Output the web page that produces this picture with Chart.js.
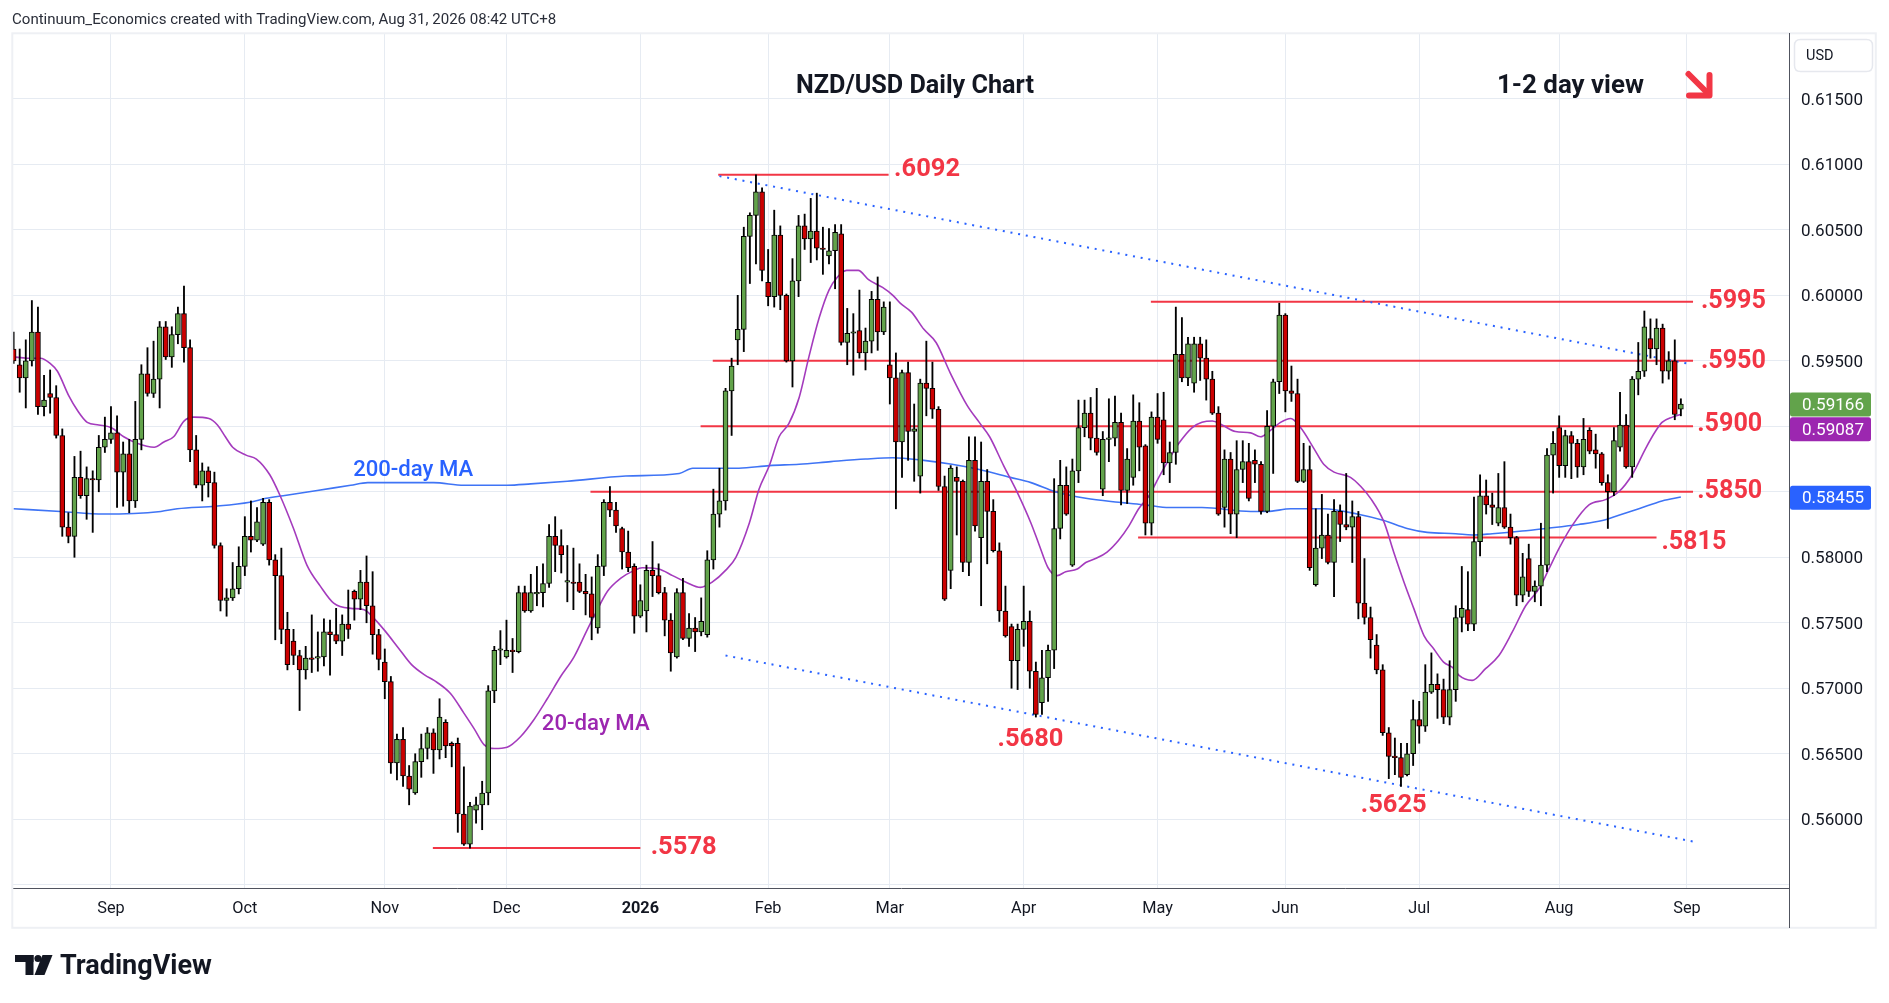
<!DOCTYPE html>
<html>
<head>
<meta charset="utf-8">
<script src="https://cdn.jsdelivr.net/npm/chart.js@4.4.1/dist/chart.umd.min.js"></script>
<style>
html,body{margin:0;padding:0;background:#fff;overflow:hidden}
#c{display:block}
</style>
</head>
<body>
<canvas id="c" width="1889" height="1003" style="width:1889px;height:1003px"></canvas>
<script>
// ---------------- DATA ----------------
// daily candles, first bar = 8 Aug 2025, last bar = 31 Aug 2026
const opens = [
.5959,.5947,.5937,.5950,.5972,.5915,.5925,.5922,.5893,.5823,
.5816,.5861,.5847,.5860,.5859,.5884,.5890,.5895,.5865,.5879,
.5843,.5890,.5940,.5925,.5936,.5976,.5953,.5970,.5986,.5960,
.5882,.5855,.5866,.5857,.5809,.5767,.5769,.5776,.5793,.5816,
.5813,.5810,.5842,.5798,.5786,.5745,.5736,.5725,.5714,.5723,
.5723,.5724,.5743,.5741,.5736,.5749,.5774,.5768,.5781,.5763,
.5741,.5720,.5705,.5643,.5661,.5633,.5620,.5644,.5654,.5666,
.5653,.5674,.5658,.5658,.5604,.5581,.5607,.5611,.5620,.5698,
.5729,.5724,.5729,.5728,.5773,.5759,.5772,.5773,.5780,.5816,
.5809,.5781,.5781,.5781,.5774,.5772,.5746,.5793,.5842,.5836,
.5822,.5804,.5793,.5755,.5759,.5790,.5786,.5773,.5752,.5724,
.5773,.5738,.5746,.5743,.5741,.5798,.5833,.5843,.5927,.5966,
.5974,.6045,.6061,.6079,.6010,.5999,.6046,.6000,.5950,.6011,
.6053,.6043,.6049,.6036,.6030,.6034,.6047,.5964,.5971,.5973,
.5956,.5965,.5997,.5972,.5947,.5937,.5888,.5941,.5896,.5862,
.5933,.5929,.5913,.5854,.5790,.5861,.5858,.5796,.5874,.5815,
.5858,.5835,.5805,.5759,.5747,.5721,.5745,.5751,.5713,.5689,
.5708,.5729,.5822,.5855,.5794,.5866,.5899,.5910,.5891,.5852,
.5890,.5891,.5903,.5851,.5861,.5904,.5885,.5826,.5907,.5905,
.5872,.5880,.5955,.5937,.5933,.5963,.5952,.5936,.5910,.5838,
.5875,.5833,.5867,.5873,.5874,.5871,.5835,.5900,.5934,.5985,
.5927,.5925,.5858,.5867,.5779,.5807,.5817,.5796,.5835,.5825,
.5823,.5831,.5765,.5754,.5733,.5714,.5666,.5648,.5647,.5634,
.5650,.5676,.5671,.5697,.5703,.5699,.5678,.5699,.5754,.5760,
.5749,.5812,.5847,.5840,.5826,.5838,.5823,.5815,.5771,.5799,
.5774,.5778,.5794,.5878,.5899,.5870,.5893,.5887,.5869,.5897,
.5882,.5879,.5857,.5850,.5884,.5901,.5869,.5936,.5942,.5967,
.5959,.5975,.5942,.5950,.5913];
const highs = [
.5972,.5959,.5966,.5996,.5991,.5939,.5943,.5931,.5898,.5834,
.5877,.5881,.5869,.5866,.5893,.5907,.5915,.5908,.5888,.5890,
.5919,.5947,.5960,.5965,.5980,.5980,.5976,.5991,.6007,.5966,
.5893,.5872,.5869,.5865,.5811,.5776,.5796,.5808,.5831,.5843,
.5838,.5845,.5844,.5802,.5807,.5758,.5745,.5729,.5732,.5756,
.5743,.5753,.5752,.5761,.5756,.5775,.5775,.5790,.5801,.5789,
.5745,.5730,.5709,.5665,.5670,.5641,.5650,.5665,.5670,.5669,
.5692,.5676,.5659,.5662,.5640,.5613,.5617,.5629,.5702,.5732,
.5744,.5752,.5738,.5778,.5778,.5787,.5793,.5795,.5825,.5831,
.5821,.5809,.5807,.5795,.5787,.5785,.5802,.5844,.5854,.5842,
.5823,.5820,.5795,.5779,.5794,.5812,.5795,.5777,.5757,.5776,
.5784,.5757,.5754,.5769,.5805,.5852,.5868,.5929,.5952,.6000,
.6052,.6063,.6092,.6082,.6035,.6065,.6053,.6001,.6028,.6061,
.6062,.6074,.6078,.6052,.6051,.6054,.6054,.5990,.5986,.6004,
.5975,.6003,.6014,.5995,.5995,.5956,.5943,.5949,.5917,.5936,
.5965,.5949,.5915,.5862,.5870,.5869,.5859,.5892,.5892,.5888,
.5867,.5844,.5811,.5778,.5749,.5749,.5778,.5759,.5720,.5729,
.5733,.5860,.5874,.5869,.5875,.5920,.5920,.5922,.5929,.5896,
.5921,.5923,.5910,.5883,.5924,.5918,.5886,.5911,.5925,.5926,
.5888,.5991,.5983,.5968,.5968,.5968,.5966,.5942,.5915,.5882,
.5880,.5889,.5889,.5887,.5882,.5873,.5912,.5936,.5994,.5986,
.5946,.5936,.5887,.5885,.5837,.5848,.5833,.5844,.5840,.5864,
.5843,.5835,.5799,.5762,.5741,.5718,.5670,.5662,.5658,.5658,
.5691,.5690,.5718,.5727,.5711,.5707,.5721,.5763,.5793,.5789,
.5846,.5863,.5859,.5849,.5864,.5873,.5833,.5816,.5803,.5810,
.5782,.5826,.5883,.5896,.5908,.5897,.5896,.5890,.5906,.5899,
.5894,.5880,.5863,.5899,.5926,.5909,.5938,.5964,.5988,.5982,
.5982,.5978,.5957,.5966,.5921];
const lows = [
.5948,.5926,.5914,.5946,.5909,.5908,.5910,.5891,.5816,.5811,
.5800,.5845,.5829,.5819,.5850,.5880,.5887,.5838,.5839,.5834,
.5838,.5882,.5923,.5922,.5914,.5951,.5945,.5963,.5949,.5873,
.5853,.5843,.5846,.5807,.5759,.5755,.5767,.5772,.5786,.5804,
.5812,.5809,.5794,.5737,.5734,.5714,.5718,.5683,.5707,.5712,
.5713,.5717,.5710,.5734,.5725,.5738,.5752,.5760,.5750,.5726,
.5714,.5692,.5635,.5630,.5625,.5611,.5619,.5632,.5646,.5635,
.5646,.5647,.5640,.5590,.5580,.5578,.5597,.5592,.5611,.5689,
.5718,.5723,.5712,.5727,.5758,.5758,.5763,.5762,.5777,.5789,
.5788,.5766,.5760,.5773,.5756,.5737,.5742,.5786,.5831,.5819,
.5791,.5789,.5742,.5754,.5743,.5770,.5772,.5740,.5713,.5723,
.5737,.5732,.5728,.5740,.5739,.5791,.5823,.5836,.5893,.5947,
.5957,.6009,.6024,.6011,.5992,.5991,.5989,.5949,.5930,.5999,
.6035,.6025,.6027,.6016,.6024,.6005,.5962,.5947,.5939,.5952,
.5943,.5956,.5958,.5970,.5917,.5837,.5861,.5874,.5858,.5849,
.5908,.5906,.5851,.5767,.5776,.5817,.5789,.5786,.5820,.5763,
.5795,.5804,.5751,.5739,.5700,.5699,.5732,.5700,.5678,.5680,
.5690,.5715,.5814,.5832,.5793,.5857,.5892,.5882,.5878,.5847,
.5873,.5885,.5840,.5841,.5855,.5866,.5817,.5817,.5887,.5863,
.5857,.5871,.5934,.5931,.5926,.5935,.5920,.5909,.5832,.5823,
.5818,.5815,.5857,.5843,.5857,.5833,.5834,.5864,.5925,.5911,
.5919,.5857,.5857,.5790,.5778,.5799,.5795,.5770,.5812,.5821,
.5796,.5753,.5749,.5723,.5711,.5664,.5631,.5634,.5625,.5633,
.5641,.5658,.5667,.5696,.5677,.5673,.5672,.5690,.5743,.5744,
.5744,.5801,.5833,.5825,.5824,.5822,.5810,.5763,.5766,.5770,
.5766,.5763,.5789,.5849,.5861,.5861,.5860,.5861,.5863,.5879,
.5868,.5855,.5822,.5847,.5881,.5868,.5861,.5924,.5938,.5952,
.5947,.5933,.5936,.5905,.5908];
const closes = [
.5950,.5937,.5950,.5972,.5915,.5920,.5922,.5893,.5823,.5816,
.5861,.5847,.5860,.5859,.5884,.5890,.5895,.5865,.5879,.5843,
.5890,.5940,.5925,.5936,.5976,.5953,.5970,.5986,.5960,.5882,
.5855,.5866,.5857,.5809,.5767,.5769,.5776,.5793,.5816,.5813,
.5827,.5842,.5798,.5786,.5745,.5718,.5725,.5714,.5723,.5722,
.5724,.5743,.5741,.5736,.5749,.5745,.5768,.5781,.5763,.5741,
.5722,.5705,.5643,.5661,.5633,.5623,.5644,.5654,.5666,.5653,
.5678,.5656,.5656,.5604,.5581,.5610,.5611,.5620,.5698,.5729,
.5730,.5729,.5728,.5773,.5759,.5773,.5773,.5780,.5816,.5809,
.5802,.5782,.5780,.5774,.5772,.5754,.5793,.5842,.5836,.5824,
.5804,.5792,.5755,.5767,.5790,.5786,.5773,.5752,.5727,.5773,
.5738,.5746,.5743,.5751,.5798,.5833,.5843,.5927,.5946,.5974,
.6045,.6061,.6079,.6019,.5999,.6046,.6000,.5950,.6011,.6053,
.6043,.6049,.6036,.6035,.6034,.6048,.5964,.5971,.5972,.5956,
.5965,.5997,.5972,.5991,.5937,.5888,.5941,.5896,.5898,.5933,
.5929,.5913,.5854,.5768,.5868,.5858,.5796,.5874,.5824,.5858,
.5835,.5805,.5759,.5740,.5721,.5745,.5751,.5713,.5680,.5708,
.5729,.5822,.5855,.5833,.5866,.5899,.5910,.5891,.5880,.5890,
.5891,.5903,.5851,.5875,.5904,.5884,.5826,.5907,.5890,.5872,
.5880,.5955,.5937,.5963,.5963,.5952,.5936,.5910,.5833,.5875,
.5833,.5867,.5873,.5845,.5871,.5835,.5900,.5934,.5985,.5927,
.5925,.5858,.5867,.5792,.5807,.5817,.5796,.5835,.5825,.5823,
.5831,.5765,.5754,.5737,.5714,.5666,.5648,.5647,.5632,.5650,
.5676,.5671,.5697,.5703,.5699,.5678,.5699,.5754,.5761,.5749,
.5812,.5847,.5840,.5838,.5838,.5823,.5815,.5771,.5785,.5774,
.5778,.5794,.5878,.5887,.5870,.5893,.5887,.5869,.5890,.5881,
.5879,.5857,.5850,.5889,.5901,.5869,.5936,.5942,.5976,.5959,
.5975,.5942,.5950,.5909,.5917];

// 20-day MA read at sample bars (bar number, value)
const ma20At = [0,2.2,4.4,6,7.2,9.1,10.5,12.1,14,16,18.1,20.3,23.1,24.7,26.3,28,29.6,32.1,33.5,34.8,
36,38.2,39.9,42.1,43.8,46,48.2,50.4,52.6,55.4,57.6,59.3,61,63.2,65.4,67.6,69.1,71.8,74,75.7,
77.3,79,81.1,83.3,85.5,87.7,89.9,92.1,94.3,95.4,97.6,99.8,102,103.3,106,108.3,110.5,112.9,114.8,117,
118.7,120.9,122.5,124.2,125.8,127.4,129.1,130.7,132.4,134,135.4,136.9,138.8,140.5,142.8,144.5,145.7,147.6,149.6,151.6,
153.9,156.7,158.7,160.4,162.7,165,167.2,168.5,170,171.5,172.9,174.8,176.2,177.8,179.7,181.6,183.3,184.9,186.6,188.2,
189.9,191.5,193.7,195.3,197,198.6,200.8,203.3,204.9,206.6,208.2,209.9,211.5,213.7,215.3,217,219.7,221.4,223,225.2,
226.8,228.5,230.1,231.8,233.4,235,236.7,237.5,239.7,241.9,244.1,246.3,248.5,250.7,252.3,254,256.1,258.9,261.6,263.8,
266,268.2,269.8,270.9,272.6,274];
const ma20Vals = [.5953,.5952,.5952,.5948,.5942,.5923,.5912,.5903,.5901,.5899,.5892,.5887,.5884,.5888,.5892,.5904,.5907,.5906,.5901,.5892,
.5884,.5878,.5875,.5863,.5847,.5822,.5794,.5778,.5765,.5761,.5760,.5753,.5744,.5731,.5718,.5710,.5706,.5696,.5681,.5669,
.5657,.5654,.5655,.5663,.5676,.5692,.5709,.5724,.5745,.5755,.5774,.5784,.5790,.5792,.5791,.5786,.5781,.5777,.5781,.5790,
.5800,.5826,.5852,.5870,.5892,.5902,.5922,.5953,.5983,.6004,.6014,.6019,.6019,.6012,.6006,.6000,.5994,.5987,.5974,.5964,
.5941,.5916,.5903,.5892,.5870,.5849,.5826,.5810,.5792,.5786,.5789,.5791,.5796,.5799,.5804,.5813,.5824,.5837,.5847,.5861,
.5875,.5887,.5899,.5903,.5904,.5901,.5896,.5895,.5892,.5897,.5903,.5906,.5899,.5883,.5871,.5865,.5861,.5854,.5845,.5827,
.5804,.5781,.5761,.5740,.5730,.5720,.5715,.5710,.5706,.5715,.5725,.5743,.5763,.5776,.5791,.5807,.5824,.5840,.5844,.5850,
.5863,.5883,.5896,.5903,.5907,.5909];

// 200-day MA read at sample bars
const ma200At = [0,7.7,14.8,24.2,26.9,33.2,38.8,41.5,44.3,49.9,55.4,58.2,61,69,74,81.1,85,91,100.6,109.4,
111.6,119.2,124.2,129.1,134.3,140,144.5,149.6,154.2,158.7,163.8,167.2,171.2,176.2,181.6,186,189.9,195.3,203.3,206,
209.9,215.3,220.8,225.2,229,232.3,237,239.7,243,247.9,251.8,257.2,261.1,263.8,267.1,270.9,274];
const ma200Vals = [.5837,.5835,.5833,.5835,.5837,.5839,.5842,.5845,.5847,.5851,.5855,.5857,.5857,.5857,.5855,.5855,.5856,.5858,.5862,.5864,
.5868,.5868,.5870,.5871,.5873,.5875,.5876,.5874,.5871,.5867,.5861,.5857,.5850,.5845,.5842,.5840,.5838,.5838,.5835,.5835,
.5837,.5837,.5833,.5828,.5822,.5819,.5818,.5817,.5818,.5820,.5822,.5825,.5828,.5832,.5837,.5843,.5846];

// horizontal levels
const levelValues = [.6092, .5995, .5950, .5900, .5850, .5815, .5578];
const levelFrom   = [115.8, 186.9, 114.9, 112.9, 94.8, 184.8, 68.9];
const levelTo     = [143.8, 276, 276, 276, 276, 270, 103];
const levelTexts  = ['.6092', '.5995', '.5950', '.5900', '.5850', '.5815', '.5578'];
// trend channel (dotted)
const upperTrend = [[116, .6091], [275, .5948]];
const lowerTrend = [[117, .5725], [276, .5583]];
// right-axis price tags: last close, 20-day MA, 200-day MA
const tagValues = [0.59166, 0.59087, 0.58455];
const tagTexts  = ['0.59166', '0.59087', '0.58455'];
// price-axis ticks
const yTickValues = [0.555,0.560,0.565,0.570,0.575,0.580,0.585,0.590,0.595,0.600,0.605,0.610,0.615];
const monthNames = ['Jan','Feb','Mar','Apr','May','Jun','Jul','Aug','Sep','Oct','Nov','Dec'];

// ---------------- trading calendar (categories) ----------------
const tradeDates = [];
(function(){
  const d = new Date(Date.UTC(2025,7,8)), end = new Date(Date.UTC(2026,8,30));
  while (d <= end) {
    const w = d.getUTCDay(), m = d.getUTCMonth(), day = d.getUTCDate();
    const hol = (m === 11 && day === 25) || (m === 0 && day === 1);
    if (w !== 0 && w !== 6 && !hol) tradeDates.push(new Date(d));
    d.setUTCDate(d.getUTCDate() + 1);
  }
})();
const monthTicks = [];
for (let i = 1; i < tradeDates.length; i++) {
  if (tradeDates[i].getUTCMonth() !== tradeDates[i-1].getUTCMonth()) {
    const m = tradeDates[i].getUTCMonth();
    monthTicks.push({value: i, label: m === 0 ? String(tradeDates[i].getUTCFullYear()) : monthNames[m]});
  }
}

// ---------------- styling ----------------
const FAM = 'Roboto, "Noto Sans", "Liberation Sans", sans-serif';
const GREEN = '#62a34b', RED = '#cc0000', LVL = '#f23645';
const BLUE = '#2962ff', PURPLE = '#9c27b0';
const GRID = '#e6ebf2', AXIS = '#50535e', TXT = '#131722';
const TY = 2.5; // visual centring of text drawn with a middle baseline

const mctx = document.createElement('canvas').getContext('2d');
function fitSize(text, weight, width) {
  mctx.font = weight + ' 100px ' + FAM;
  return 100 * width / mctx.measureText(text).width;
}
const yFont = fitSize('0.61500', 'normal', 62);
const xFont = fitSize('Sep', 'normal', 27.5);

// ---------------- datasets ----------------
const bodies = closes.map((c, i) => ({x: i, y: [Math.min(opens[i], c), Math.max(opens[i], c)]}));
const wicks = highs.map((h, i) => ({x: i, y: [lows[i], h]}));
const bodyColors = closes.map((c, i) => c >= opens[i] ? GREEN : RED);

const datasets = [
  {type: 'bar', data: bodies, backgroundColor: bodyColors, borderColor: '#000', borderWidth: 1,
   borderSkipped: false, barThickness: 5, grouped: false, minBarLength: 1.5, order: 1},
  {type: 'bar', data: wicks, backgroundColor: '#000', borderWidth: 0, barThickness: 1.2,
   grouped: false, order: 2},
  {type: 'line', data: ma20At.map((x, k) => ({x, y: ma20Vals[k]})), borderColor: '#a43bbd', borderWidth: 1.6,
   pointRadius: 0, cubicInterpolationMode: 'monotone', order: 3},
  {type: 'line', data: ma200At.map((x, k) => ({x, y: ma200Vals[k]})), borderColor: '#3f74f5', borderWidth: 1.6,
   pointRadius: 0, cubicInterpolationMode: 'monotone', order: 3},
  {type: 'line', data: upperTrend.map(p => ({x: p[0], y: p[1]})), borderColor: BLUE, borderWidth: 2,
   borderDash: [2, 5.8], pointRadius: 0, order: 4},
  {type: 'line', data: lowerTrend.map(p => ({x: p[0], y: p[1]})), borderColor: BLUE, borderWidth: 2,
   borderDash: [2, 5.8], pointRadius: 0, order: 4}
];
levelValues.forEach((v, k) => {
  datasets.push({type: 'line', data: [{x: levelFrom[k], y: v}, {x: levelTo[k], y: v}],
    borderColor: LVL, borderWidth: 2, pointRadius: 0, order: 5});
});

// ---------------- annotations ----------------
const notes = [
  {t: '.6092', x: 144.7, y: .6098, c: LVL, w: 66},
  {t: '.5995', x: 277.3, y: .5997, c: LVL, w: 65},
  {t: '.5950', x: 277.3, y: .5951, c: LVL, w: 65},
  {t: '.5900', x: 276.7, y: .5903, c: LVL, w: 65},
  {t: '.5850', x: 276.7, y: .5852, c: LVL, w: 65},
  {t: '.5815', x: 270.8, y: .5813, c: LVL, w: 65},
  {t: '.5578', x: 104.7, y: .5580, c: LVL, w: 66},
  {t: '.5680', x: 161.7, y: .5663, c: LVL, w: 66},
  {t: '.5625', x: 221.4, y: .5612, c: LVL, w: 66}
];
const maNotes = [
  {t: '200-day MA', x: 55.8, y: .5868, c: BLUE, w: 120},
  {t: '20-day MA', x: 86.8, y: .5674, c: PURPLE, w: 108}
];

function roundRect(g, x, y, w, h, r) {
  g.beginPath();
  g.moveTo(x + r, y); g.lineTo(x + w - r, y); g.quadraticCurveTo(x + w, y, x + w, y + r);
  g.lineTo(x + w, y + h - r); g.quadraticCurveTo(x + w, y + h, x + w - r, y + h);
  g.lineTo(x + r, y + h); g.quadraticCurveTo(x, y + h, x, y + h - r);
  g.lineTo(x, y + r); g.quadraticCurveTo(x, y, x + r, y); g.closePath();
}

const decor = {
  id: 'decor',
  beforeDraw(c) {
    const g = c.ctx; g.save(); g.fillStyle = '#fff'; g.fillRect(0, 0, c.width, c.height); g.restore();
  },
  afterDraw(c) {
    const g = c.ctx, xs = c.scales.x, ys = c.scales.y;
    g.save();
    // outer frame
    g.strokeStyle = '#eef0f4'; g.lineWidth = 2;
    g.strokeRect(12.3, 33.3, 1863.5, 894.5);
    g.strokeStyle = AXIS; g.lineWidth = 1;
    g.beginPath(); g.moveTo(1789.5, 33); g.lineTo(1789.5, 928); g.stroke();

    g.textBaseline = 'middle'; g.textAlign = 'left';
    // header
    const head = 'Continuum_Economics created with TradingView.com, Aug 31, 2026 08:42 UTC+8';
    let s = fitSize(head, 'normal', 545);
    g.font = 'normal ' + s + 'px ' + FAM; g.fillStyle = '#2a2e39';
    g.fillText(head, 12, 18 + TY);
    // titles
    s = fitSize('NZD/USD Daily Chart', 'bold', 238);
    g.font = 'bold ' + s + 'px ' + FAM; g.fillStyle = TXT;
    g.fillText('NZD/USD Daily Chart', 796, 84.5 + TY);
    s = fitSize('1-2 day view', 'bold', 147);
    g.font = 'bold ' + s + 'px ' + FAM;
    g.fillText('1-2 day view', 1497, 84.5 + TY);
    // arrow
    g.strokeStyle = LVL; g.lineWidth = 6; g.lineCap = 'round'; g.lineJoin = 'round';
    g.beginPath(); g.moveTo(1688.5, 74); g.lineTo(1707, 92.5); g.stroke();
    g.beginPath(); g.moveTo(1709.5, 75); g.lineTo(1709.5, 95.5); g.lineTo(1689, 95.5); g.stroke();

    // level and low labels
    notes.forEach(n => {
      const sz = fitSize(n.t, 'bold', n.w);
      g.font = 'bold ' + sz + 'px ' + FAM; g.fillStyle = n.c;
      g.fillText(n.t, xs.getPixelForValue(n.x), ys.getPixelForValue(n.y) + TY);
    });
    maNotes.forEach(n => {
      const sz = fitSize(n.t, '500', n.w);
      g.font = '500 ' + sz + 'px ' + FAM; g.fillStyle = n.c;
      g.fillText(n.t, xs.getPixelForValue(n.x), ys.getPixelForValue(n.y) + TY);
    });

    // price-axis tick labels (through the y scale)
    g.font = 'normal ' + yFont + 'px ' + FAM; g.fillStyle = TXT;
    yTickValues.forEach(v => {
      if (v < 0.5575) return;
      g.fillText(v.toFixed(5), 1801, ys.getPixelForValue(v) + 1.5);
    });

    // USD box
    g.strokeStyle = '#e6e8ee'; g.lineWidth = 1.5;
    roundRect(g, 1794.5, 39.5, 78, 32, 6); g.stroke();
    g.font = 'normal ' + (yFont * 0.85) + 'px ' + FAM; g.fillStyle = TXT;
    g.fillText('USD', 1806, 56.5);

    // price tags
    const tagColors = [GREEN, PURPLE, BLUE];
    const order = tagValues.map((v, k) => ({k, y: ys.getPixelForValue(v)})).sort((a, b) => a.y - b.y);
    let prev = -1e9;
    order.forEach(o => {
      let y = Math.max(o.y, prev + 24.6); prev = y;
      g.fillStyle = tagColors[o.k];
      roundRect(g, 1790, y - 12, 81, 24, 2.5); g.fill();
      g.fillStyle = '#fff'; g.font = 'normal ' + yFont + 'px ' + FAM;
      g.fillText(tagTexts[o.k], 1802, y + 1.5);
    });

    // TradingView logo
    g.fillStyle = TXT;
    g.fillRect(15, 955, 18.5, 7); g.fillRect(25.5, 955, 8, 20);
    g.beginPath(); g.arc(38, 958.5, 3.6, 0, Math.PI * 2); g.fill();
    g.beginPath(); g.moveTo(42.5, 955); g.lineTo(52.5, 955); g.lineTo(44.5, 975); g.lineTo(34.5, 975); g.closePath(); g.fill();
    s = fitSize('TradingView', 'bold', 152);
    g.font = 'bold ' + s + 'px ' + FAM; g.fillStyle = TXT;
    g.fillText('TradingView', 60, 965 + TY);
    g.restore();
  }
};

new Chart(document.getElementById('c').getContext('2d'), {
  type: 'line',
  data: {datasets},
  options: {
    responsive: false, animation: false, devicePixelRatio: 1,
    layout: {padding: {left: 13, top: 34, right: 14, bottom: 75}},
    plugins: {legend: {display: false}, tooltip: {enabled: false}},
    elements: {line: {fill: false}},
    scales: {
      x: {
        type: 'linear', min: -0.1, max: 291.77, offset: false,
        afterFit: s => { s.height = 40; },
        afterBuildTicks: s => { s.ticks = monthTicks.filter(t => t.value <= 291).map(t => ({value: t.value})); },
        ticks: {
          autoSkip: false, maxRotation: 0, padding: 11.5, color: TXT,
          callback: v => { const t = monthTicks.find(m => m.value === v); return t ? t.label : ''; },
          font: ctx => ({family: FAM, size: xFont, weight: (ctx.tick && ctx.tick.value === 103) ? 'bold' : 'normal'})
        },
        grid: {color: GRID, drawTicks: false, lineWidth: 1, offset: false},
        border: {display: true, color: AXIS, width: 1}
      },
      y: {
        type: 'linear', position: 'right', min: 0.55475, max: 0.61995,
        afterFit: s => { s.width = 86; },
        afterBuildTicks: s => { s.ticks = yTickValues.map(v => ({value: v})); },
        ticks: {display: false},
        grid: {color: GRID, drawTicks: false, lineWidth: 1, offset: false},
        border: {display: true, color: AXIS, width: 1}
      }
    }
  },
  plugins: [decor]
});
</script>
</body>
</html>
